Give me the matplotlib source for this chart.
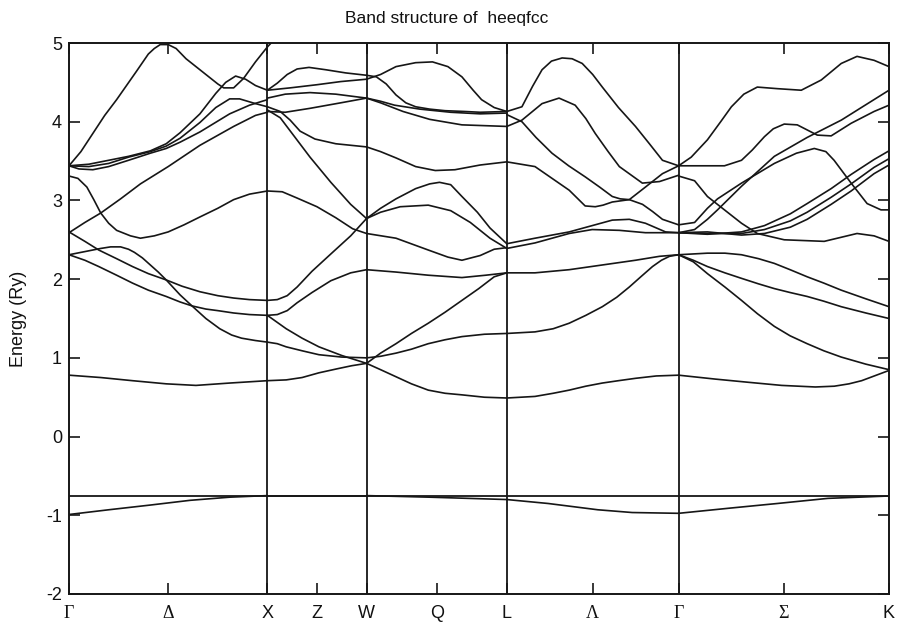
import numpy as np
import matplotlib
matplotlib.use("Agg")
import matplotlib.pyplot as plt

# High-symmetry path of the fcc Brillouin zone
point_labels = ["Γ", "Δ", "X", "Z", "W", "Q", "L", "Λ", "Γ", "Σ", "K"]
segment_lengths = [1.0, 0.5, np.sqrt(2) / 2, np.sqrt(3) / 2, 3 * np.sqrt(2) / 4]
fermi_level = -0.75
energy_ticks = [-2, -1, 0, 1, 2, 3, 4, 5]

# Bands on each segment: (fraction along segment, energy in Ry)
gamma_x_bands = [
    ([0, .06, .12, .18, .24, .29, .34, .40, .43, .46, .50, .54, .59, .65, .70, .75, .78, .83, .88, .94, 1],
     [3.44, 3.62, 3.85, 4.08, 4.28, 4.46, 4.64, 4.86, 4.93, 4.98, 4.98, 4.93, 4.80, 4.68, 4.58, 4.48, 4.43, 4.43, 4.55, 4.76, 4.95]),
    ([0, .1, .2, .3, .41, .49, .56, .66, .74, .79, .84, .89, .94, 1],
     [3.44, 3.46, 3.51, 3.56, 3.63, 3.72, 3.86, 4.10, 4.36, 4.50, 4.58, 4.54, 4.46, 4.40]),
    ([0, .1, .2, .3, .41, .49, .56, .66, .74, .81, .86, .94, 1],
     [3.44, 3.43, 3.47, 3.55, 3.62, 3.69, 3.79, 3.99, 4.18, 4.29, 4.29, 4.23, 4.19]),
    ([0, .05, .12, .2, .3, .41, .49, .56, .66, .81, .91, 1],
     [3.44, 3.40, 3.39, 3.43, 3.51, 3.60, 3.66, 3.74, 3.87, 4.10, 4.21, 4.28]),
    ([0, .08, .16, .26, .36, .5, .66, .83, .94, 1],
     [2.59, 2.72, 2.84, 3.02, 3.21, 3.43, 3.70, 3.94, 4.08, 4.12]),
    ([0, .045, .09, .125, .16, .2, .24, .31, .36, .43, .5, .58, .66, .75, .83, .91, 1],
     [3.31, 3.28, 3.17, 3.01, 2.84, 2.71, 2.62, 2.55, 2.52, 2.55, 2.60, 2.69, 2.79, 2.90, 3.01, 3.08, 3.12]),
    ([0, .08, .15, .24, .32, .4, .49, .57, .66, .75, .83, .91, 1],
     [2.60, 2.48, 2.37, 2.26, 2.16, 2.07, 1.99, 1.91, 1.84, 1.79, 1.76, 1.74, 1.73]),
    ([0, .08, .15, .24, .32, .4, .49, .56, .62, .69, .75, .83, .91, 1],
     [2.31, 2.24, 2.16, 2.05, 1.95, 1.86, 1.78, 1.71, 1.66, 1.62, 1.60, 1.57, 1.55, 1.54]),
    ([0, .08, .16, .21, .26, .3, .33, .37, .41, .45, .49, .56, .62, .69, .76, .82, .87, .94, 1],
     [2.31, 2.35, 2.39, 2.41, 2.41, 2.38, 2.34, 2.27, 2.18, 2.09, 1.99, 1.80, 1.66, 1.50, 1.37, 1.29, 1.25, 1.22, 1.20]),
    ([0, .16, .32, .49, .64, .81, 1],
     [0.78, 0.75, 0.71, 0.67, 0.65, 0.68, 0.71]),
    ([0, .2, .41, .61, .81, 1],
     [-0.99, -0.93, -0.87, -0.81, -0.77, -0.75]),
]

x_w_bands = [
    ([0, .15, .3], [4.95, 5.15, 5.35]),
    ([0, .1, .2, .3, .42, .59, .79, 1], [4.40, 4.49, 4.60, 4.67, 4.69, 4.66, 4.62, 4.59]),
    ([0, .23, .5, .74, 1], [4.40, 4.43, 4.47, 4.51, 4.54]),
    ([0, .18, .43, .69, 1], [4.30, 4.35, 4.37, 4.35, 4.30]),
    ([0, .18, .43, .74, 1], [4.13, 4.12, 4.17, 4.24, 4.30]),
    ([0, .13, .23, .33, .48, .69, 1], [4.19, 4.13, 4.02, 3.88, 3.78, 3.72, 3.68]),
    ([0, .13, .28, .43, .64, .84, 1], [4.15, 4.05, 3.80, 3.55, 3.23, 2.95, 2.77]),
    ([0, .15, .3, .5, .69, .86, 1], [3.12, 3.11, 3.03, 2.92, 2.78, 2.64, 2.58]),
    ([0, .1, .2, .3, .45, .64, .84, 1], [1.73, 1.74, 1.79, 1.90, 2.10, 2.32, 2.55, 2.77]),
    ([0, .1, .2, .3, .45, .64, .84, 1], [1.54, 1.55, 1.60, 1.70, 1.83, 1.98, 2.08, 2.12]),
    ([0, .19, .35, .52, .75, 1], [1.54, 1.37, 1.25, 1.14, 1.03, 0.93]),
    ([0, .1, .19, .35, .52, .75, 1], [1.20, 1.18, 1.14, 1.09, 1.04, 1.01, 1.00]),
    ([0, .19, .35, .52, .7, .85, 1], [0.71, 0.72, 0.75, 0.81, 0.86, 0.90, 0.93]),
    ([0, 1], [-0.75, -0.75]),
]

w_l_bands = [
    ([0, .07, .14, .21, .28, .35, .45, .56, .7, .81, 1],
     [4.59, 4.57, 4.48, 4.34, 4.24, 4.19, 4.16, 4.14, 4.13, 4.12, 4.13]),
    ([0, .1, .21, .35, .47, .58, .68, .76, .82, .91, 1],
     [4.54, 4.60, 4.70, 4.75, 4.76, 4.70, 4.57, 4.40, 4.28, 4.18, 4.13]),
    ([0, .1, .2, .38, .6, .81, 1], [4.30, 4.26, 4.21, 4.16, 4.12, 4.10, 4.11]),
    ([0, .1, .26, .45, .68, 1], [4.30, 4.24, 4.13, 4.03, 3.96, 3.94]),
    ([0, .1, .21, .35, .49, .63, .81, 1], [3.68, 3.62, 3.54, 3.43, 3.38, 3.39, 3.45, 3.49]),
    ([0, .1, .21, .35, .45, .52, .6, .68, .79, .88, 1],
     [2.77, 2.90, 3.02, 3.15, 3.21, 3.23, 3.20, 3.05, 2.85, 2.65, 2.45]),
    ([0, .1, .24, .44, .6, .74, .88, 1], [2.77, 2.85, 2.92, 2.94, 2.87, 2.72, 2.52, 2.39]),
    ([0, .21, .44, .58, .68, .81, .91, 1], [2.58, 2.52, 2.37, 2.28, 2.24, 2.30, 2.38, 2.40]),
    ([0, .21, .44, .68, .85, 1], [2.12, 2.09, 2.05, 2.02, 2.05, 2.08]),
    ([0, .1, .21, .32, .44, .56, .68, .8, .91, 1],
     [0.93, 1.06, 1.18, 1.31, 1.44, 1.58, 1.73, 1.88, 2.03, 2.08]),
    ([0, .1, .21, .32, .44, .56, .68, .84, 1], [1.00, 1.02, 1.06, 1.11, 1.18, 1.23, 1.27, 1.30, 1.31]),
    ([0, .1, .21, .32, .44, .56, .68, .84, 1], [0.93, 0.85, 0.76, 0.67, 0.59, 0.55, 0.53, 0.50, 0.49]),
    ([0, .45, 1], [-0.75, -0.77, -0.80]),
]

l_gamma_bands = [
    ([0, .088, .15, .205, .26, .322, .38, .439, .5, .556, .65, .749, .83, .906, 1],
     [4.13, 4.19, 4.45, 4.66, 4.77, 4.81, 4.80, 4.74, 4.60, 4.44, 4.18, 3.94, 3.72, 3.51, 3.44]),
    ([0, .088, .205, .304, .398, .46, .515, .59, .655, .789, .889, 1],
     [3.94, 4.02, 4.23, 4.30, 4.21, 4.04, 3.85, 3.62, 3.43, 3.22, 3.24, 3.32]),
    ([0, .088, .17, .263, .36, .456, .54, .614, .66, .713, .807, .906, 1],
     [4.09, 4.00, 3.80, 3.60, 3.44, 3.30, 3.17, 3.05, 3.02, 3.01, 3.17, 3.34, 3.44]),
    ([0, .164, .363, .456, .515, .56, .614, .713, .79, .848, .906, 1],
     [3.49, 3.43, 3.13, 2.93, 2.92, 2.94, 2.98, 3.01, 2.95, 2.86, 2.76, 2.69]),
    ([0, .164, .363, .48, .614, .713, .807, .924, 1],
     [2.45, 2.52, 2.60, 2.67, 2.75, 2.76, 2.71, 2.60, 2.59]),
    ([0, .164, .363, .497, .655, .807, 1], [2.39, 2.46, 2.58, 2.63, 2.62, 2.59, 2.59]),
    ([0, .164, .363, .556, .749, .889, 1], [2.08, 2.08, 2.12, 2.18, 2.24, 2.29, 2.31]),
    ([0, .164, .27, .363, .46, .556, .64, .713, .78, .848, .9, .947, 1],
     [1.31, 1.33, 1.37, 1.44, 1.54, 1.65, 1.77, 1.90, 2.03, 2.16, 2.24, 2.29, 2.31]),
    ([0, .164, .27, .363, .46, .556, .65, .749, .87, 1],
     [0.49, 0.51, 0.55, 0.59, 0.64, 0.68, 0.71, 0.74, 0.77, 0.78]),
    ([0, .24, .53, .73, 1], [-0.80, -0.85, -0.93, -0.965, -0.975]),
]

gamma_k_bands = [
    ([0, .06, .137, .2, .251, .31, .374, .469, .583, .678, .773, .848, .929, 1],
     [3.44, 3.55, 3.77, 4.00, 4.19, 4.35, 4.44, 4.42, 4.40, 4.53, 4.74, 4.83, 4.78, 4.70]),
    ([0, .218, .299, .35, .408, .45, .502, .564, .659, .725, .82, .929, 1],
     [3.44, 3.44, 3.51, 3.64, 3.81, 3.91, 3.97, 3.96, 3.83, 3.82, 3.98, 4.13, 4.21]),
    ([0, .076, .137, .185, .299, .455, .611, .773, 1],
     [2.59, 2.63, 2.76, 2.88, 3.18, 3.56, 3.80, 4.02, 4.40]),
    ([0, .076, .137, .185, .299, .455, .56, .645, .7, .739, .82, .896, .962, 1],
     [2.69, 2.72, 2.90, 3.02, 3.22, 3.47, 3.60, 3.66, 3.62, 3.51, 3.22, 2.96, 2.88, 2.88]),
    ([0, .076, .137, .218, .299, .374, .502, .692, .848, .929, 1],
     [3.31, 3.25, 3.05, 2.88, 2.71, 2.58, 2.50, 2.48, 2.58, 2.55, 2.48]),
    ([0, .137, .299, .408, .531, .611, .725, .82, .929, 1],
     [2.59, 2.57, 2.60, 2.68, 2.83, 2.96, 3.15, 3.33, 3.52, 3.63]),
    ([0, .137, .299, .408, .531, .611, .725, .82, .929, 1],
     [2.59, 2.58, 2.58, 2.63, 2.74, 2.85, 3.04, 3.21, 3.42, 3.53]),
    ([0, .137, .299, .408, .531, .611, .725, .82, .929, 1],
     [2.59, 2.60, 2.56, 2.58, 2.66, 2.76, 2.95, 3.12, 3.34, 3.45]),
    ([0, .137, .22, .299, .38, .455, .53, .611, .69, .773, .89, 1],
     [2.31, 2.33, 2.33, 2.31, 2.26, 2.20, 2.12, 2.03, 1.95, 1.86, 1.75, 1.65]),
    ([0, .07, .137, .22, .299, .38, .455, .53, .611, .69, .773, .89, 1],
     [2.31, 2.24, 2.16, 2.08, 2.01, 1.94, 1.88, 1.83, 1.78, 1.72, 1.65, 1.57, 1.50]),
    ([0, .07, .137, .22, .299, .375, .455, .53, .611, .69, .773, .89, 1],
     [2.31, 2.22, 2.07, 1.90, 1.73, 1.56, 1.40, 1.28, 1.18, 1.09, 1.01, 0.92, 0.85]),
    ([0, .175, .33, .49, .65, .74, .81, .87, .94, 1],
     [0.78, 0.73, 0.69, 0.65, 0.63, 0.64, 0.67, 0.71, 0.78, 0.84]),
    ([0, .24, .47, .71, 1], [-0.975, -0.91, -0.85, -0.785, -0.755]),
]

all_segments = [gamma_x_bands, x_w_bands, w_l_bands, l_gamma_bands, gamma_k_bands]

# Path coordinates of the corner points and the segment midpoints
corners = np.concatenate([[0.0], np.cumsum(segment_lengths)])
tick_positions = []
for i, length in enumerate(segment_lengths):
    tick_positions += [corners[i], corners[i] + length / 2]
tick_positions.append(corners[-1])

line_color = "#161616"

fig = plt.figure(figsize=(8.98, 6.23), dpi=100)
ax = fig.add_axes([69 / 898, 1 - 594 / 623, (889 - 69) / 898, (594 - 43) / 623])

for start, length, bands in zip(corners[:-1], segment_lengths, all_segments):
    for frac, energy in bands:
        k = start + np.asarray(frac) * length
        ax.plot(k, energy, color=line_color, lw=1.2, solid_joinstyle="round",
                solid_capstyle="round")

# Corner verticals and the Fermi level
for c in corners[1:-1]:
    ax.axvline(c, color=line_color, lw=1.3)
ax.axhline(fermi_level, color=line_color, lw=1.3)

ax.set_xlim(corners[0], corners[-1])
ax.set_ylim(-2, 5)
ax.set_yticks(energy_ticks)
ax.set_yticklabels([str(t) for t in energy_ticks])
ax.set_xticks(tick_positions)
ax.set_xticklabels(point_labels)
for lbl in ax.get_xticklabels():
    if lbl.get_text() in ("Γ", "Δ", "Λ", "Σ"):
        lbl.set_family("Liberation Serif")
        lbl.set_fontsize(14)
    else:
        lbl.set_family("Liberation Sans")
        lbl.set_fontsize(13)

ax.tick_params(axis="both", direction="in", length=8, width=1.2, color=line_color,
               top=True, right=True, labelsize=13, labelcolor="#111111")
ax.tick_params(axis="x", pad=8)
ax.tick_params(axis="y", pad=5)
for lbl in ax.get_yticklabels():
    lbl.set_family("Liberation Sans")

for s in ax.spines.values():
    s.set_linewidth(1.4)
    s.set_color(line_color)

ax.set_ylabel("Energy (Ry)", fontsize=13, family="Liberation Sans", labelpad=14,
              color="#111111")
fig.text(0.497, 0.970, "Band structure of  heeqfcc", ha="center", va="center",
         fontsize=12.5, family="Liberation Sans", color="#111111")

fig.savefig("out.png", dpi=100)
